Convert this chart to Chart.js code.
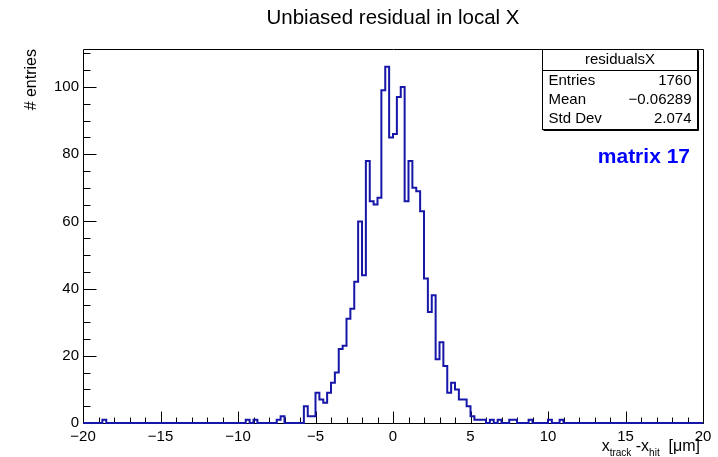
<!DOCTYPE html>
<html>
<head>
<meta charset="utf-8">
<script src="https://cdn.jsdelivr.net/npm/chart.js@4/dist/chart.umd.min.js"></script>
<style>
  body { margin: 0; background: #fff; }
  canvas { display: block; }
</style>
</head>
<body>
<canvas id="residuals" width="718" height="457"></canvas>
<script>
// histogram binning: 160 bins of 0.25 um from -20 to 20
const binLow = -20;
const binHigh = 20;
const binWidth = 0.25;

// bin contents, 20 bins per row (each row spans 5 um)
const counts = [
  0, 0, 0, 0, 0, 1, 0, 0, 0, 0, 0, 0, 0, 0, 0, 0, 0, 0, 0, 0,
  0, 0, 0, 0, 0, 0, 0, 0, 0, 0, 0, 0, 0, 0, 0, 0, 0, 0, 0, 0,
  0, 0, 1, 0, 1, 0, 0, 0, 0, 0, 1, 2, 0, 0, 0, 0, 0, 5, 2, 2,
  9, 7, 6, 9, 12, 15, 22, 23, 31, 34, 42, 60, 44, 78, 66, 65, 67, 99, 106, 85,
  86, 97, 100, 66, 78, 70, 69, 63, 43, 33, 38, 19, 24, 17, 9, 12, 10, 7, 7, 5,
  2, 1, 1, 1, 0, 1, 0, 1, 0, 0, 1, 1, 0, 0, 0, 1, 0, 0, 0, 0,
  1, 0, 0, 1, 0, 0, 0, 0, 0, 0, 0, 0, 0, 0, 0, 0, 0, 0, 0, 0,
  0, 0, 0, 0, 0, 0, 0, 0, 0, 0, 0, 0, 0, 0, 0, 0, 0, 0, 0, 0
];

const xTicks = [-20, -15, -10, -5, 0, 5, 10, 15, 20];
const yTicks = [0, 20, 40, 60, 80, 100];
const yMax = 111.3;

const histName = 'residualsX';
const statRows = [
  ['Entries', '1760'],
  ['Mean', '\u22120.06289'],
  ['Std Dev', '2.074']
];
const titleText = 'Unbiased residual in local X';
const yTitle = '# entries';
const matrixLabel = 'matrix 17';

const FONT = '"Liberation Sans", Arial, Helvetica, sans-serif';

// left edge of every bin, plus the closing edge at binHigh
const points = counts.map((c, i) => ({ x: binLow + i * binWidth, y: c }));
points.push({ x: binHigh, y: counts[counts.length - 1] });

const minus = v => String(v).replace('-', '\u2212');

function drawTicks(ctx, chart) {
  const a = chart.chartArea;
  const xs = chart.scales.x, ys = chart.scales.y;
  ctx.save();
  ctx.strokeStyle = '#000';
  ctx.lineWidth = 1;
  ctx.beginPath();
  const L = Math.round(a.left) + 0.5, R = Math.round(a.right) + 0.5;
  const T = Math.round(a.top) + 0.5, B = Math.round(a.bottom) + 0.5;
  ctx.rect(L, T, R - L, B - T);
  // x ticks: major every 5, minor every 1
  for (let v = binLow; v <= binHigh; v += 1) {
    const px = Math.round(xs.getPixelForValue(v)) + 0.5;
    const len = v % 5 === 0 ? 12 : 6;
    ctx.moveTo(px, B);
    ctx.lineTo(px, B - len);
  }
  // y ticks: major every 20, minor every 5
  for (let v = 0; v <= yMax; v += 5) {
    const py = Math.round(ys.getPixelForValue(v)) + 0.5;
    const len = v % 20 === 0 ? 13 : 7;
    ctx.moveTo(L, py);
    ctx.lineTo(L + len, py);
  }
  ctx.stroke();
  ctx.restore();
}

function drawTexts(ctx, chart) {
  ctx.save();
  ctx.fillStyle = '#000';

  // title
  ctx.font = '20.5px ' + FONT;
  ctx.textAlign = 'center';
  ctx.textBaseline = 'middle';
  ctx.fillText(titleText, 393, 18);

  // y axis title, rotated, ending at the top of the frame
  ctx.save();
  ctx.translate(32, 49);
  ctx.rotate(-Math.PI / 2);
  ctx.font = '16px ' + FONT;
  ctx.textAlign = 'right';
  ctx.textBaseline = 'middle';
  ctx.fillText(yTitle, 0, 0);
  ctx.restore();

  // x axis title with subscripts, right aligned
  const parts = [
    { t: 'x', size: 16, dy: 0 },
    { t: 'track', size: 10, dy: 5 },
    { t: ' -x', size: 16, dy: 0 },
    { t: 'hit', size: 10, dy: 5 },
    { t: '  [\u03bcm]', size: 16, dy: 0 }
  ];
  let total = 0;
  parts.forEach(p => {
    ctx.font = p.size + 'px ' + FONT;
    p.w = ctx.measureText(p.t).width;
    total += p.w;
  });
  let cx = 700 - total;
  ctx.textAlign = 'left';
  ctx.textBaseline = 'alphabetic';
  parts.forEach(p => {
    ctx.font = p.size + 'px ' + FONT;
    ctx.fillText(p.t, cx, 451 + p.dy);
    cx += p.w;
  });

  // statistics box
  const bx = 542.5, by = 49.5, bw = 155, bh = 80;
  ctx.fillStyle = '#fff';
  ctx.fillRect(bx, by, bw, bh);
  ctx.strokeStyle = '#000';
  ctx.lineWidth = 1;
  ctx.strokeRect(bx, by, bw, bh);
  ctx.beginPath();
  ctx.moveTo(bx, 70.5);
  ctx.lineTo(bx + bw, 70.5);
  ctx.moveTo(bx + 1, by + bh + 1);
  ctx.lineTo(bx + bw + 1, by + bh + 1);
  ctx.lineTo(bx + bw + 1, by + 1);
  ctx.stroke();

  ctx.fillStyle = '#000';
  ctx.font = '15px ' + FONT;
  ctx.textBaseline = 'middle';
  ctx.textAlign = 'center';
  ctx.fillText(histName, bx + bw / 2, 60);
  statRows.forEach((row, i) => {
    const y = 81 + i * 19;
    ctx.textAlign = 'left';
    ctx.fillText(row[0], bx + 6, y);
    ctx.textAlign = 'right';
    ctx.fillText(row[1], bx + bw - 6, y);
  });

  // matrix label
  ctx.fillStyle = '#0000ff';
  ctx.font = 'bold 21px ' + FONT;
  ctx.textAlign = 'right';
  ctx.textBaseline = 'middle';
  ctx.fillText(matrixLabel, 690, 157);

  ctx.restore();
}

const rootStyle = {
  id: 'rootStyle',
  beforeDraw(chart) {
    const ctx = chart.ctx;
    ctx.save();
    ctx.fillStyle = '#fff';
    ctx.fillRect(0, 0, chart.width, chart.height);
    ctx.restore();
  },
  beforeDatasetsDraw(chart) {
    drawTicks(chart.ctx, chart);
  },
  afterDatasetsDraw(chart) {
    drawTexts(chart.ctx, chart);
  }
};

new Chart(document.getElementById('residuals'), {
  type: 'line',
  data: {
    datasets: [{
      label: histName,
      data: points,
      stepped: true,
      borderColor: '#1616a8',
      borderWidth: 2,
      pointRadius: 0,
      fill: false,
      clip: false
    }]
  },
  options: {
    responsive: false,
    animation: false,
    events: [],
    layout: { padding: { top: 49, right: 15, left: 0, bottom: 0 } },
    plugins: {
      legend: { display: false },
      tooltip: { enabled: false }
    },
    scales: {
      x: {
        type: 'linear',
        min: binLow,
        max: binHigh,
        afterBuildTicks: s => { s.ticks = xTicks.map(v => ({ value: v })); },
        afterFit: s => { s.height = 34; },
        grid: { display: false, drawTicks: false },
        border: { display: false },
        ticks: {
          padding: 5,
          color: '#000',
          font: { family: FONT, size: 15 },
          maxRotation: 0,
          callback: v => minus(v)
        }
      },
      y: {
        min: 0,
        max: yMax,
        afterBuildTicks: s => { s.ticks = yTicks.map(v => ({ value: v })); },
        afterFit: s => { s.width = 83; },
        grid: { display: false, drawTicks: false },
        border: { display: false },
        ticks: {
          padding: 4,
          color: '#000',
          font: { family: FONT, size: 15 },
          callback: v => minus(v)
        }
      }
    }
  },
  plugins: [rootStyle]
});
</script>
</body>
</html>
